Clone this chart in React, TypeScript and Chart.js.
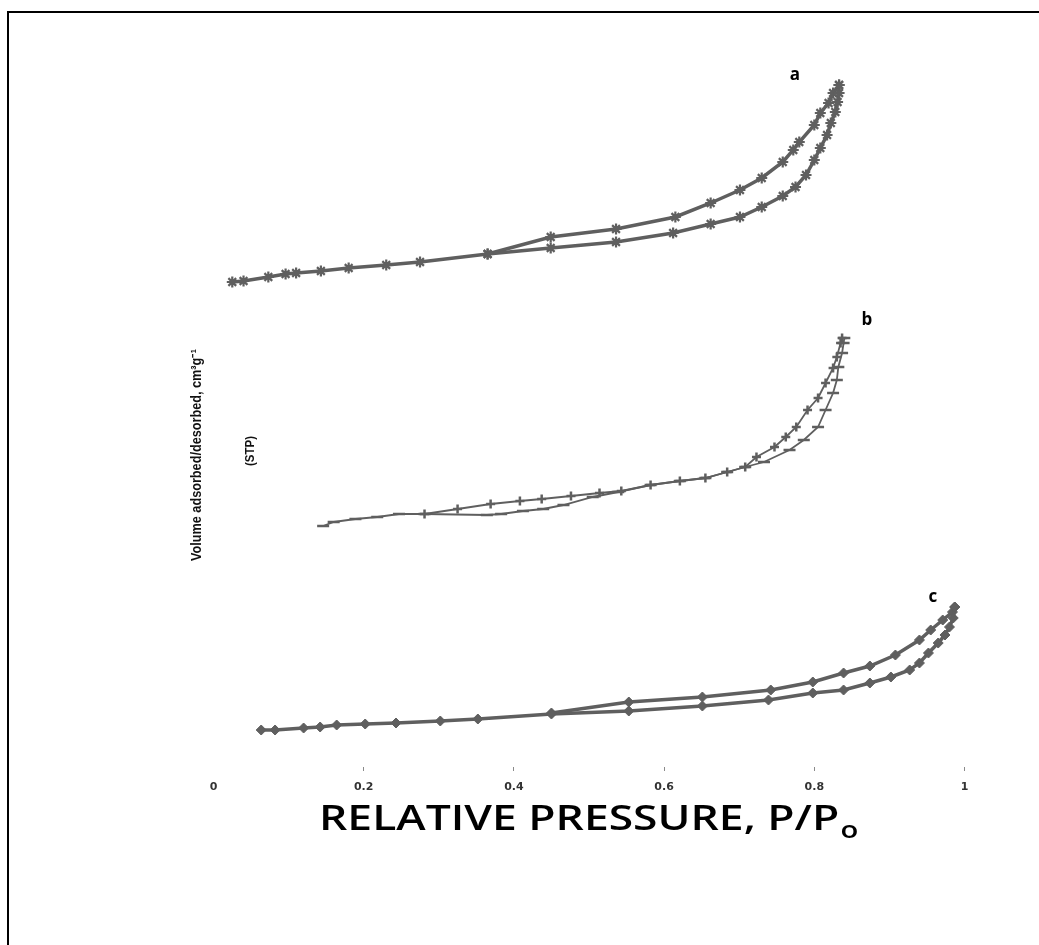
import React, { useEffect, useRef } from "react";
import { Chart, registerables } from "chart.js";

Chart.register(...registerables);

// X axis ticks (relative pressure P/Po)
const xTicks = [0, 0.2, 0.4, 0.6, 0.8, 1];

// Sample a — adsorption (lower branch) and desorption (upper branch)
const aAdsP = [0.025, 0.04, 0.073, 0.096, 0.11, 0.143, 0.18, 0.23, 0.275, 0.365, 0.449, 0.536, 0.612, 0.662, 0.701, 0.73, 0.758, 0.775, 0.789, 0.8, 0.808, 0.817, 0.822, 0.828, 0.831, 0.833, 0.833];
const aAdsV = [488, 489, 493, 496, 497, 499, 502, 505, 508, 516, 522, 528, 537, 546, 553, 563, 574, 583, 595, 610, 622, 635, 647, 658, 668, 677, 685];
const aDesP = [0.833, 0.825, 0.819, 0.808, 0.8, 0.78, 0.772, 0.758, 0.73, 0.701, 0.662, 0.615, 0.536, 0.449, 0.365];
const aDesV = [685, 677, 667, 657, 645, 628, 620, 608, 592, 580, 567, 553, 541, 533, 516];

// Sample b
const bAdsP = [0.146, 0.16, 0.189, 0.218, 0.247, 0.281, 0.364, 0.383, 0.412, 0.439, 0.466, 0.505, 0.539, 0.582, 0.621, 0.655, 0.684, 0.708, 0.733, 0.767, 0.786, 0.805, 0.815, 0.825, 0.83, 0.832, 0.837, 0.839, 0.84];
const bAdsV = [244, 248, 251, 253, 256, 256, 255, 256, 259, 261, 265, 273, 278, 285, 289, 292, 298, 303, 308, 320, 330, 343, 360, 377, 390, 403, 417, 427, 432];
const bDesP = [0.837, 0.835, 0.83, 0.825, 0.815, 0.805, 0.791, 0.776, 0.762, 0.747, 0.723, 0.708, 0.684, 0.655, 0.621, 0.582, 0.543, 0.514, 0.476, 0.437, 0.408, 0.369, 0.325, 0.281];
const bDesV = [432, 427, 413, 402, 387, 372, 360, 343, 333, 323, 313, 303, 298, 292, 289, 285, 279, 277, 274, 271, 269, 266, 261, 256];

// Sample c
const cAdsP = [0.0635, 0.082, 0.12, 0.142, 0.164, 0.202, 0.243, 0.302, 0.352, 0.45, 0.553, 0.651, 0.739, 0.798, 0.839, 0.874, 0.902, 0.927, 0.94, 0.952, 0.965, 0.974, 0.98, 0.985, 0.987];
const cAdsV = [40, 40, 42, 43, 45, 46, 47, 49, 51, 56, 59, 64, 70, 77, 80, 87, 93, 100, 107, 117, 127, 135, 143, 152, 163];
const cDesP = [0.987, 0.984, 0.971, 0.955, 0.94, 0.908, 0.874, 0.839, 0.798, 0.742, 0.651, 0.553, 0.45];
const cDesV = [163, 158, 150, 140, 130, 115, 104, 97, 88, 80, 73, 68, 57];

// Curve labels (placed in data coordinates)
const curveLabels = ["a", "b", "c"];
const curveLabelP = [0.774, 0.87, 0.958];
const curveLabelV = [695, 450, 173];

const xTitle = "RELATIVE PRESSURE, P/P";
const xTitleSub = "o";
const yTitle = "Volume adsorbed/desorbed, cm³g⁻¹";
const yTitle2 = "(STP)";

const GRAY = "#5f5f5f";

const zip = (xs: number[], ys: number[]) => xs.map((x, i) => ({ x, y: ys[i] }));

const textPlugin = {
  id: "customTexts",
  afterDraw(chart: any) {
    const ctx = chart.ctx as CanvasRenderingContext2D;
    const xs = chart.scales.x;
    const ys = chart.scales.y;
    const ca = chart.chartArea;
    ctx.save();
    // curve labels
    ctx.fillStyle = "#000";
    ctx.font = 'bold 17px "Open Sans"';
    ctx.textAlign = "center";
    ctx.textBaseline = "middle";
    curveLabels.forEach((t, i) => {
      ctx.fillText(t, xs.getPixelForValue(curveLabelP[i]), ys.getPixelForValue(curveLabelV[i]));
    });

    // x title with subscript, stretched horizontally to the reference width
    const mainFont = '600 35px "Open Sans"';
    const subFont = '600 23px "Open Sans"';
    ctx.font = mainFont;
    const w1 = ctx.measureText(xTitle).width;
    ctx.font = subFont;
    const w2 = ctx.measureText(xTitleSub).width;
    const targetW = 538;
    const sx = targetW / (w1 + w2);
    const cx = (ca.left + ca.right) / 2 - 1;
    const baseY = ca.bottom + 63;
    ctx.save();
    ctx.translate(cx - targetW / 2, baseY);
    ctx.scale(sx, 1);
    ctx.textAlign = "left";
    ctx.textBaseline = "alphabetic";
    ctx.font = mainFont;
    ctx.fillText(xTitle, 0, 0);
    ctx.font = subFont;
    ctx.fillText(xTitleSub, w1 + 1, 8);
    ctx.restore();

    // y title (rotated, condensed)
    ctx.save();
    ctx.translate(ca.left - 16.5, ca.top + 385);
    ctx.rotate(-Math.PI / 2);
    ctx.font = 'bold 14px "Liberation Sans Narrow", "Liberation Sans"';
    const wy = ctx.measureText(yTitle).width;
    ctx.scale(212 / wy, 1);
    ctx.textAlign = "center";
    ctx.textBaseline = "middle";
    ctx.fillStyle = "#111";
    ctx.fillText(yTitle, 0, 0);
    ctx.restore();

    ctx.save();
    ctx.translate(ca.left + 36.5, ca.top + 381);
    ctx.rotate(-Math.PI / 2);
    ctx.font = 'bold 13px "Liberation Sans Narrow", "Liberation Sans"';
    const ws = ctx.measureText(yTitle2).width;
    ctx.scale(30 / ws, 1);
    ctx.textAlign = "center";
    ctx.textBaseline = "middle";
    ctx.fillStyle = "#111";
    ctx.fillText(yTitle2, 0, 0);
    ctx.restore();

    ctx.restore();
  },
};

export default function App() {
  const canvasRef = useRef<HTMLCanvasElement | null>(null);

  useEffect(() => {
    if (!canvasRef.current) return;
    const common = {
      showLine: true,
      borderColor: GRAY,
      backgroundColor: GRAY,
      pointBorderColor: GRAY,
      pointBackgroundColor: GRAY,
      tension: 0,
    };
    const chart = new Chart(canvasRef.current, {
      type: "scatter",
      data: {
        datasets: [
          { ...common, label: "a ads", data: zip(aAdsP, aAdsV), borderWidth: 3.5, pointStyle: "star", pointRadius: 5.5, pointBorderWidth: 2.2 },
          { ...common, label: "a des", data: zip(aDesP, aDesV), borderWidth: 3.5, pointStyle: "star", pointRadius: 5.5, pointBorderWidth: 2.2 },
          { ...common, label: "b ads", data: zip(bAdsP, bAdsV), borderWidth: 1.8, pointStyle: "line", pointRadius: 6, pointBorderWidth: 2.5 },
          { ...common, label: "b des", data: zip(bDesP, bDesV), borderWidth: 1.8, pointStyle: "cross", pointRadius: 4.5, pointBorderWidth: 2.5 },
          { ...common, label: "c ads", data: zip(cAdsP, cAdsV), borderWidth: 3.5, pointStyle: "rectRot", pointRadius: 5, pointBorderWidth: 1 },
          { ...common, label: "c des", data: zip(cDesP, cDesV), borderWidth: 3.5, pointStyle: "rectRot", pointRadius: 5, pointBorderWidth: 1 },
        ],
      },
      options: {
        responsive: false,
        animation: false,
        clip: false as any,
        layout: { padding: { left: 213.5, right: 74.5, top: 70, bottom: 138 } },
        plugins: { legend: { display: false }, tooltip: { enabled: false } },
        scales: {
          x: {
            type: "linear",
            min: 0,
            max: 1,
            afterBuildTicks: (scale: any) => {
              scale.ticks = xTicks.map((v) => ({ value: v }));
            },
            afterFit: (scale: any) => {
              scale.height = 40;
            },
            border: { display: false },
            grid: {
              drawOnChartArea: false,
              drawTicks: true,
              tickLength: 4,
              color: (c: any) => (c.tick && c.tick.value === 0 ? "rgba(0,0,0,0)" : "#8a8a8a"),
            },
            ticks: {
              padding: 10,
              maxRotation: 0,
              color: "#333",
              font: { family: "DejaVu Sans", size: 11, weight: "bold" },
              callback: (v: any) => String(v),
            },
          },
          y: {
            type: "linear",
            min: 3,
            max: 700,
            display: false,
          },
        },
      },
      plugins: [textPlugin],
    } as any);
    return () => chart.destroy();
  }, []);

  return (
    <div style={{ position: "fixed", left: 0, top: 0, width: 1039, height: 945, overflow: "hidden", background: "#fff" }}>
      <div
        style={{
          position: "absolute",
          left: 7,
          top: 11,
          width: 1032,
          height: 934,
          borderLeft: "2px solid #000",
          borderTop: "2px solid #000",
          boxSizing: "border-box",
        }}
      />
      <canvas ref={canvasRef} width={1039} height={945} style={{ position: "absolute", left: 0, top: 0 }} />
    </div>
  );
}
